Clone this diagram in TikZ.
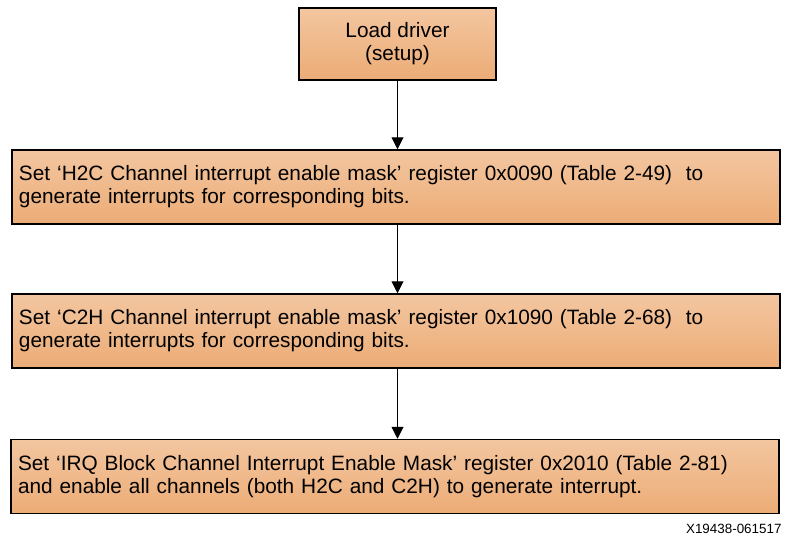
\documentclass[tikz,border=0pt]{standalone}
\usepackage{fontspec}
\setmainfont{Liberation Sans}
\usetikzlibrary{arrows.meta}
\definecolor{boxtop}{RGB}{243,198,160}
\definecolor{boxbot}{RGB}{236,172,118}
\tikzset{stepbox/.style={draw, line width=1.5pt, top color=boxtop, bottom color=boxbot,
    inner xsep=7pt, inner ysep=0pt, font=\fontsize{20.8}{22.8}\selectfont},
  widebox/.style={stepbox, minimum width=768pt, minimum height=74pt, text width=754pt, align=left}}
\begin{document}
\begin{tikzpicture}[x=1pt, y=-1pt, >={Triangle[length=12pt, width=12pt]}]
\useasboundingbox (0,0) rectangle (787,541);
%
             \node [stepbox, minimum width=197pt, minimum height=72pt, align=center] at (397.5,44) (load) {Load driver\\(setup)};
             \node [widebox] at (396,187) (htoc) {Set ‘H2C Channel interrupt enable mask’ register 0x0090 (Table 2-49)\ \ to\\generate interrupts for corresponding bits.};
             \node [widebox] at (396,331) (ctoh) {Set ‘C2H Channel interrupt enable mask’ register 0x1090 (Table 2-68)\ \ to\\generate interrupts for corresponding bits.};
             \node [widebox] at (395,476.5) (irq) {Set ‘IRQ Block Channel Interrupt Enable Mask’ register 0x2010 (Table 2-81)\\and enable all channels (both H2C and C2H) to generate interrupt.};
             \node [anchor=base east, font=\fontsize{13.4}{15}\selectfont] at (785,533) (fig) {X19438-061517};
%
\draw[->, line width=1pt] (load) -- (load |- htoc.north);
\draw[->, line width=1pt] (load |- htoc.south) -- (load |- ctoh.north);
\draw[->, line width=1pt] (load |- ctoh.south) -- (load |- irq.north);
\end{tikzpicture}
\end{document}
